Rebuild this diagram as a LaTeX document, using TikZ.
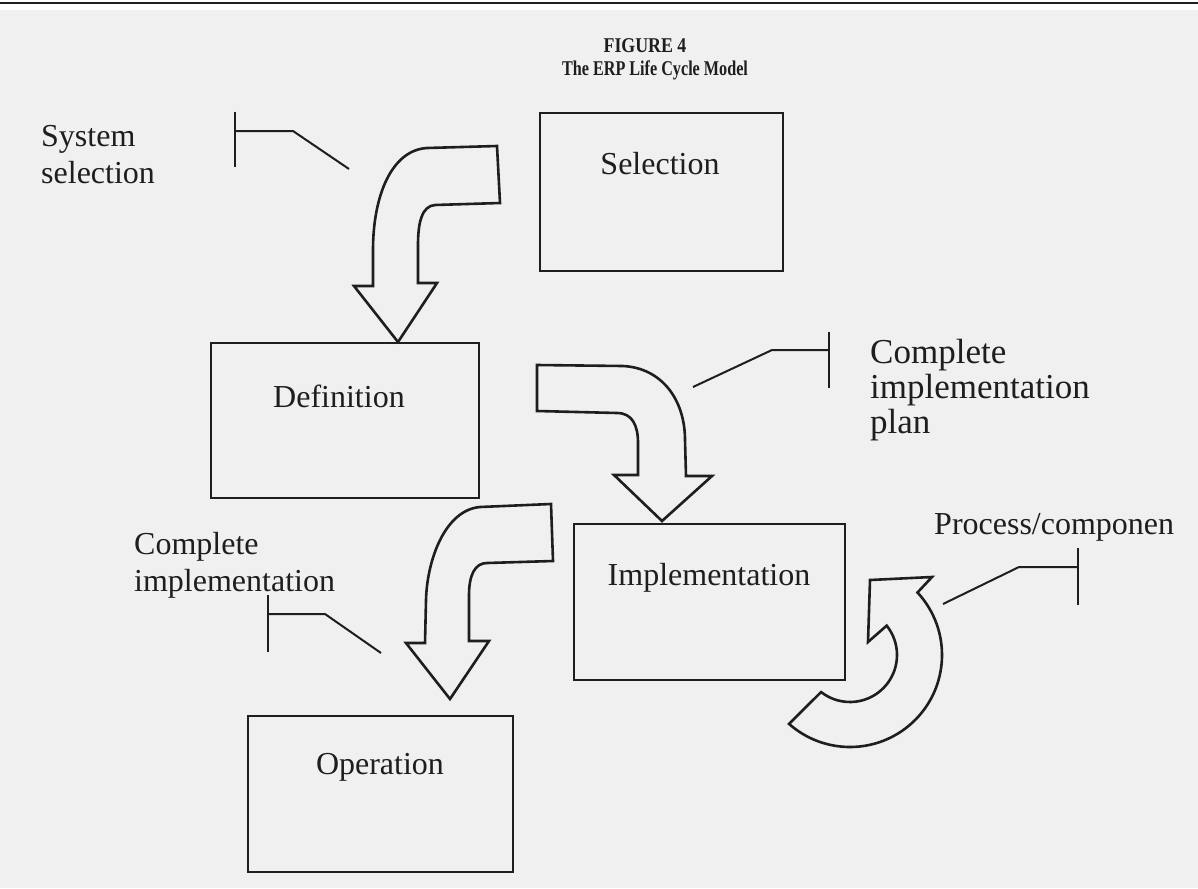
\documentclass[tikz,border=0pt]{standalone}
\usepackage{fontspec}
\setmainfont{Liberation Serif}
\definecolor{ink}{HTML}{1E1E1E}
\definecolor{paper}{HTML}{F0F0F0}
\begin{document}
\begin{tikzpicture}[x=1pt,y=-1pt,
  box/.style={draw=ink, line width=2.2pt, inner sep=0pt},
  blockarrow/.style={draw=ink, line width=2.6pt, line join=miter},
  callout/.style={draw=ink, line width=2pt},
  lbl/.style={text=ink, font=\fontsize{32}{37}\selectfont, inner sep=0pt, align=left},
  biglbl/.style={text=ink, font=\fontsize{35}{35}\selectfont, inner sep=0pt, align=left},
  ttl/.style={text=ink, font=\fontsize{21}{21}\selectfont\bfseries, inner sep=0pt}
]
\fill[paper] (0,0) rectangle (1198,888);
\useasboundingbox (0,0) rectangle (1198,888);
\fill[white] (0,0) rectangle (1198,10);
\draw[ink, line width=2pt] (0,3) -- (1198,3);

% title
\node[ttl] (t1) at (645,46) {\scalebox{0.85}[1]{FIGURE 4}};
\node[ttl] (t2) at (655,70) {\scalebox{0.77}[1]{The ERP Life Cycle Model}};

% boxes
\node[box, minimum width=243pt, minimum height=158pt] (selection) at (661.5,192) {};
\node[box, minimum width=268pt, minimum height=155pt] (definition) at (345,420.5) {};
\node[box, minimum width=271pt, minimum height=156pt] (implementation) at (709.5,602) {};
\node[box, minimum width=265pt, minimum height=156pt] (operation) at (380.5,794) {};

\node[lbl] (selT) at (660,164) {Selection};
\node[lbl] (defT) at (339,396) {Definition};
\node[lbl] (impT) at (709,578) {Implementation};
\node[lbl] (opT) at (380,767) {Operation};

% block arrows
\draw[blockarrow] (497,146) -- (427,148) .. controls (392,150) and (373,195) .. (373,250)
  -- (373,286) -- (354,286) -- (398,342) -- (437,283) -- (418,283) -- (418,245)
  .. controls (418,222) and (422,206) .. (435,205) -- (500,203) -- cycle;

\draw[blockarrow] (537,365) -- (623,366) .. controls (662,368) and (685,400) .. (685,440)
  -- (686,476) -- (712,476) -- (662,521) -- (614,475) -- (638,475) -- (638,443)
  .. controls (638,425) and (632,413) .. (617,413) -- (537,411) -- cycle;

\draw[blockarrow] (551,504) -- (480,507) .. controls (445,510) and (427,560) .. (426,600)
  -- (425,643) -- (406,643) -- (450,699) -- (489,641) -- (469,641) -- (469,595)
  .. controls (469,575) and (475,563) .. (487,563) -- (553,561) -- cycle;

\coordinate (c4) at (850,655);
\draw[blockarrow] (870,580) -- (932,577) -- ([shift={(42.8:92pt)}]c4)
  arc[start angle=42.8, end angle=-131.5, radius=92pt]
  -- ([shift={(-128:47pt)}]c4)
  arc[start angle=-128, end angle=38.7, radius=47pt]
  -- (868,642) -- cycle;

% callouts
\draw[callout] (235,112) -- (235,167);
\draw[callout] (235,131) -- (293,131) -- (349,169);
\draw[callout] (829,332) -- (829,388);
\draw[callout] (829,350) -- (772,350) -- (693,387);
\draw[callout] (1078,548) -- (1078,605);
\draw[callout] (1078,567) -- (1019,567) -- (943,604);
\draw[callout] (268,595) -- (268,652);
\draw[callout] (268,614) -- (325,614) -- (381,653);

% labels
\node[lbl, anchor=west] (sysT) at (41,155) {System\\selection};
\node[biglbl, anchor=west] (cipT) at (870,390) {Complete\\implementation\\plan};
\node[lbl, anchor=west] (pcT) at (934,527) {Process/componen};
\node[lbl, anchor=west] (ciT) at (134,565) {Complete\\implementation};
\end{tikzpicture}
\end{document}
